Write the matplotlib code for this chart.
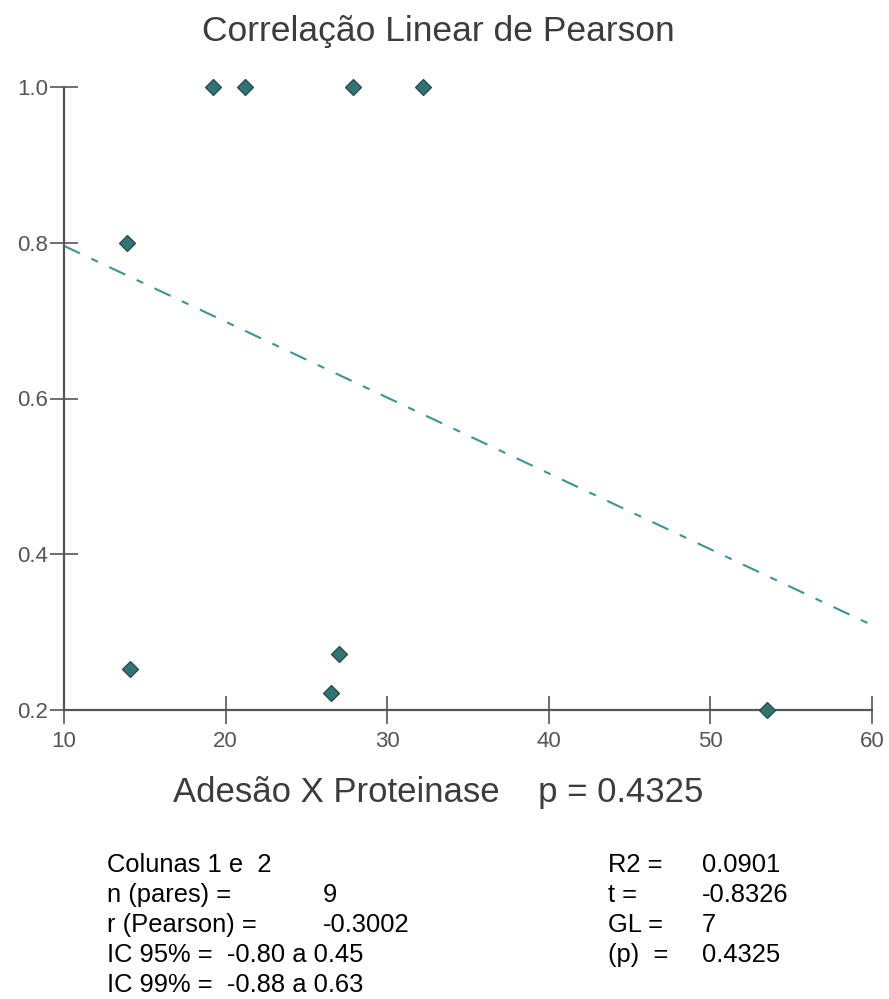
import numpy as np
import matplotlib
matplotlib.use("Agg")
import matplotlib.pyplot as plt

# ── dados ──────────────────────────────────────────────
adesao = [19.2, 21.2, 27.9, 32.2, 13.9, 14.1, 27.0, 26.5, 53.5]
proteinase = [1.0, 1.0, 1.0, 1.0, 0.8, 0.253, 0.272, 0.222, 0.2]

x_ticks = [10, 20, 30, 40, 50, 60]
y_ticks = [0.2, 0.4, 0.6, 0.8, 1.0]

titulo = "Correlação Linear de Pearson"
rotulo_x = "Adesão X Proteinase    p = 0.4325"

stats_esq_rot = ["Colunas 1 e  2", "n (pares) =", "r (Pearson) =",
                 "IC 95% =  -0.80 a 0.45", "IC 99% =  -0.88 a 0.63"]
stats_esq_val = ["", "9", "-0.3002", "", ""]
stats_dir_rot = ["R2 =", "t =", "GL =", "(p)  ="]
stats_dir_val = ["0.0901", "-0.8326", "7", "0.4325"]

TEAL = "#2f7575"
LINE = "#3c9494"
AXIS = "#555555"
TXT = "#3c3c3c"

plt.rcParams["font.family"] = ["Liberation Sans", "DejaVu Sans"]

W, H = 889, 999
fig = plt.figure(figsize=(W / 100, H / 100), dpi=100)
ax = fig.add_axes([64 / W, 1 - 710 / H, 808 / W, 623 / H])

# reta de regressão (mínimos quadrados)
a, b = np.polyfit(adesao, proteinase, 1)
xs = np.array([x_ticks[0], x_ticks[-1]])
ax.plot(xs, a * xs + b, color=LINE, lw=1.5, linestyle=(0, (8.5, 6, 3.5, 6)))

ax.plot(adesao, proteinase, linestyle="none", marker="D", markersize=8,
        markerfacecolor=TEAL, markeredgecolor="#2a4545", markeredgewidth=0.9,
        clip_on=False, zorder=3)

ax.set_xlim(x_ticks[0], x_ticks[-1])
ax.set_ylim(y_ticks[0], y_ticks[-1])
ax.set_xticks(x_ticks)
ax.set_yticks(y_ticks)
ax.set_xticklabels([str(v) for v in x_ticks])
ax.set_yticklabels([f"{v:.1f}" for v in y_ticks])

for s in ["top", "right"]:
    ax.spines[s].set_visible(False)
for s in ["left", "bottom"]:
    ax.spines[s].set_color(AXIS)
    ax.spines[s].set_linewidth(1.6)

ax.tick_params(direction="inout", length=20, width=1.2, color=AXIS,
               labelcolor=AXIS, labelsize=16)
ax.tick_params(axis="x", pad=5)
ax.tick_params(axis="y", pad=1.5)

fig.text(438 / W, 1 - 41 / H, titulo, ha="center", va="baseline",
         fontsize=25.5, color=TXT)
fig.text(438 / W, 1 - 802 / H, rotulo_x, ha="center", va="baseline",
         fontsize=25, color=TXT)

y0, dy = 872, 30
fs = 18.4
for i, (r, v) in enumerate(zip(stats_esq_rot, stats_esq_val)):
    y = 1 - (y0 + i * dy) / H
    fig.text(107 / W, y, r, ha="left", va="baseline", fontsize=fs)
    if v:
        fig.text(323 / W, y, v, ha="left", va="baseline", fontsize=fs)
for i, (r, v) in enumerate(zip(stats_dir_rot, stats_dir_val)):
    y = 1 - (y0 + i * dy) / H
    fig.text(608 / W, y, r, ha="left", va="baseline", fontsize=fs)
    fig.text(702 / W, y, v, ha="left", va="baseline", fontsize=fs)

fig.savefig("out.png", dpi=100, facecolor="white")
